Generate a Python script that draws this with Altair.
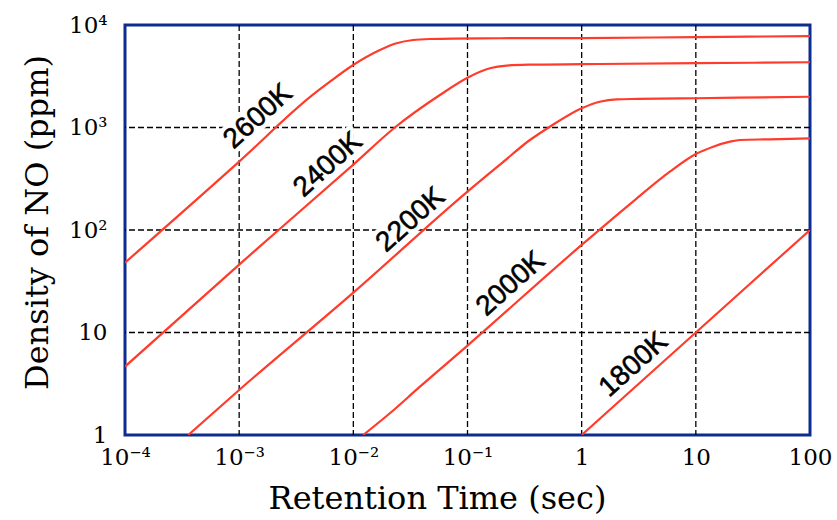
import math
import altair as alt
import pandas as pd

# ---- axis ticks / labels ----
x_ticks = [1e-4, 1e-3, 1e-2, 1e-1, 1, 10, 100]
x_tick_labels = ["10⁻⁴", "10⁻³", "10⁻²", "10⁻¹", "1", "10", "100"]
y_ticks = [1, 10, 100, 1000, 10000]
y_tick_labels = ["1", "10", "10²", "10³", "10⁴"]
x_grid = [1e-3, 1e-2, 1e-1, 1, 10]
y_grid = [10, 100, 1000]

# ---- series (retention time [s], NO density [ppm]) ----
t_2600 = [1e-4, 1e-3, 4.4e-3, 6.24e-3, 9.97e-3, 0.0171, 0.0239, 0.0334, 0.0468, 0.1285, 1, 10, 100]
v_2600 = [48, 465, 2080, 2800, 4070, 5700, 6630, 7140, 7300, 7420, 7450, 7620, 7800]
t_2400 = [1e-4, 1e-3, 1e-2, 0.0231, 0.0573, 0.1, 0.157, 0.22, 0.35, 1, 10, 100]
v_2400 = [4.65, 46, 435, 1000, 2075, 3060, 3780, 4020, 4100, 4150, 4240, 4330]
t_2200 = [3.58e-4, 1e-3, 1e-2, 0.1, 0.2, 0.352, 0.527, 1.0, 1.44, 2.02, 3.13, 10, 100]
v_2200 = [1, 2.75, 24.5, 237, 450, 755, 1018, 1540, 1785, 1884, 1900, 1930, 1995]
t_2000 = [0.0122, 0.0209, 0.0383, 0.1, 1, 2.92, 5.92, 10.1, 14.2, 19.9, 24.3, 44.5, 100]
v_2000 = [1, 1.63, 2.96, 7.45, 71.5, 196, 371, 555, 650, 727, 755, 767, 785]
t_1800 = [1, 10, 100]
v_1800 = [1, 10, 100]

series_names = ["2600K", "2400K", "2200K", "2000K", "1800K"]
series_t = [t_2600, t_2400, t_2200, t_2000, t_1800]
series_v = [v_2600, v_2400, v_2200, v_2000, v_1800]

# label anchor points (data coordinates)
label_t = [1.47e-3, 6.02e-3, 0.0319, 0.240, 2.86]
label_v = [1274, 431, 125, 29.7, 4.82]

RED = "#ff3b2b"
BLUE = "#0d2c8f"
SERIF = "DejaVu Serif"

rows = []
for name, ts, vs in zip(series_names, series_t, series_v):
    for i, (t, v) in enumerate(zip(ts, vs)):
        rows.append({"series": name, "t": t, "v": v, "order": i})
lines_df = pd.DataFrame(rows)
labels_df = pd.DataFrame({"name": series_names, "t": label_t, "v": label_v})
gx_df = pd.DataFrame({"t": x_grid})
gy_df = pd.DataFrame({"v": y_grid})


def label_expr(ticks, labels):
    parts = []
    for tv, lab in zip(ticks, labels):
        e = round(math.log10(tv))
        parts.append(f"round(log(datum.value)/LN10) == {e} ? '{lab}'")
    return " : ".join(parts) + " : ''"


x_scale = alt.Scale(type="log", domain=[1e-4, 100], nice=False)
y_scale = alt.Scale(type="log", domain=[1, 10000], nice=False)

x_axis = alt.Axis(
    values=x_ticks, labelExpr=label_expr(x_ticks, x_tick_labels),
    grid=False, ticks=False, domain=False,
    labelFont=SERIF, labelFontSize=23, labelColor="black", labelPadding=11,
    labelFlush=False, labelOverlap=False,
    title="Retention Time (sec)", titleFont=SERIF, titleFontSize=32,
    titleFontWeight="normal", titleColor="black",
    titleX=312, titleY=73, titleBaseline="alphabetic", titleAlign="center",
)
y_axis = alt.Axis(
    values=y_ticks, labelExpr=label_expr(y_ticks, y_tick_labels),
    grid=False, ticks=False, domain=False,
    labelFont=SERIF, labelFontSize=23, labelColor="black", labelPadding=18,
    labelFlush=False, labelOverlap=False,
    title="Density of NO (ppm)", titleFont=SERIF, titleFontSize=32,
    titleFontWeight="normal", titleColor="black",
    titleX=-78, titleY=197, titleBaseline="alphabetic", titleAlign="center",
    titleAngle=270,
)

X = alt.X("t:Q", scale=x_scale, axis=x_axis)
Y = alt.Y("v:Q", scale=y_scale, axis=y_axis)

grid_x = alt.Chart(gx_df).mark_rule(
    color="black", strokeWidth=1.3, strokeDash=[6, 3]
).encode(x=X)
grid_y = alt.Chart(gy_df).mark_rule(
    color="black", strokeWidth=1.3, strokeDash=[6, 3]
).encode(y=Y)

halo = alt.Chart(labels_df).mark_text(
    font="Liberation Sans", fontSize=28, angle=318, align="center",
    baseline="middle", color="white", stroke="white", strokeWidth=9,
    strokeJoin="round",
).encode(x=X, y=Y, text="name:N")
labels = alt.Chart(labels_df).mark_text(
    font="Liberation Sans", fontSize=28, angle=318, align="center",
    baseline="middle", color="black", stroke="black", strokeWidth=0.6,
).encode(x=X, y=Y, text="name:N")

lines = alt.Chart(lines_df).mark_line(
    color=RED, strokeWidth=2.2, interpolate="monotone", clip=True
).encode(x=X, y=Y, detail="series:N", order="order:Q")

chart = alt.layer(grid_x, grid_y, halo, labels, lines).properties(
    width=685, height=410,
    autosize=alt.AutoSizeParams(type="none"),
    padding={"left": 125, "top": 25, "right": 27, "bottom": 85},
    background="white",
).configure_view(stroke=BLUE, strokeWidth=3)

chart.save("out.html", embed_options={"renderer": "svg", "actions": False})
